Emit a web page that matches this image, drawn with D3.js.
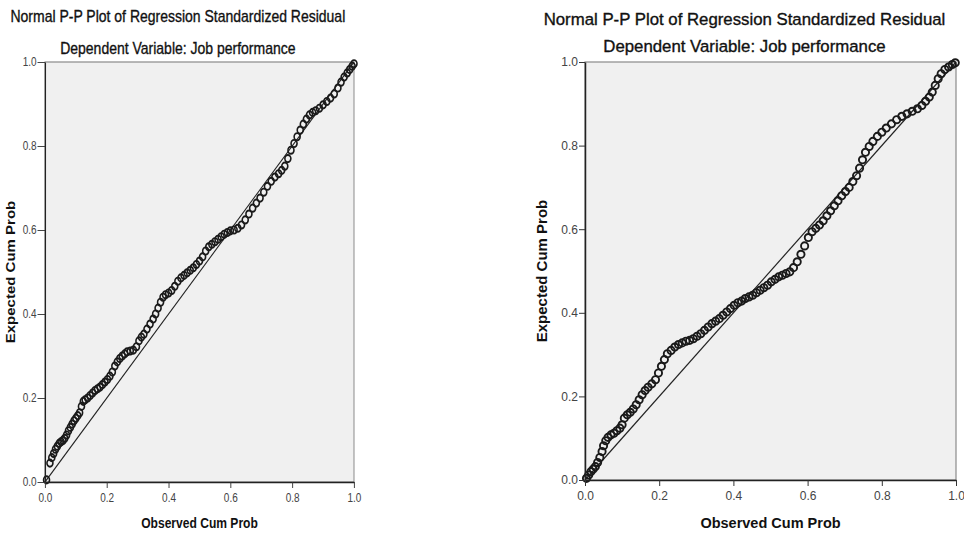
<!DOCTYPE html>
<html>
<head>
<meta charset="utf-8">
<script src="https://cdn.jsdelivr.net/npm/d3@7"></script>
<style>
  body { margin: 0; background: #fff; }
  svg { display: block; font-family: "Liberation Sans", Arial, sans-serif; }
  .tick text { fill: #444; font-size: 12px; }
  .tick line { stroke: #333; }
  .domain { stroke: #222; stroke-width: 1.5; }
</style>
</head>
<body>
<svg width="964" height="535"></svg>
<script>
var titleText = 'Normal P-P Plot of Regression Standardized Residual',
    subtitleText = 'Dependent Variable: Job performance',
    xLabel = 'Observed Cum Prob',
    yLabel = 'Expected Cum Prob';

var tickValues = [0, 0.2, 0.4, 0.6, 0.8, 1.0];

// left chart (observed / expected cumulative probability)
var leftObs = [0.005, 0.016, 0.022, 0.028, 0.034, 0.040, 0.046, 0.052, 0.058, 0.064,
    0.070, 0.076, 0.082, 0.088, 0.094, 0.100, 0.106, 0.112, 0.118, 0.124,
    0.130, 0.138, 0.146, 0.154, 0.162, 0.170, 0.178, 0.186, 0.194, 0.202,
    0.210, 0.218, 0.226, 0.234, 0.242, 0.250, 0.258, 0.266, 0.276, 0.286,
    0.296, 0.304, 0.312, 0.320, 0.330, 0.340, 0.350, 0.358, 0.366, 0.374,
    0.382, 0.390, 0.400, 0.410, 0.420, 0.430, 0.440, 0.450, 0.460, 0.470,
    0.480, 0.490, 0.500, 0.510, 0.520, 0.530, 0.540, 0.550, 0.560, 0.570,
    0.580, 0.590, 0.600, 0.612, 0.624, 0.636, 0.648, 0.660, 0.672, 0.684,
    0.696, 0.708, 0.720, 0.732, 0.744, 0.756, 0.766, 0.776, 0.786, 0.796,
    0.806, 0.816, 0.826, 0.836, 0.846, 0.856, 0.866, 0.876, 0.888, 0.900,
    0.912, 0.924, 0.936, 0.948, 0.958, 0.968, 0.978, 0.986, 0.994, 1.000];
var leftExp = [0.005, 0.045, 0.058, 0.068, 0.078, 0.085, 0.092, 0.096, 0.099, 0.104,
    0.112, 0.122, 0.130, 0.138, 0.146, 0.152, 0.158, 0.165, 0.180, 0.192,
    0.196, 0.200, 0.206, 0.212, 0.218, 0.222, 0.226, 0.232, 0.238, 0.244,
    0.252, 0.262, 0.276, 0.286, 0.294, 0.300, 0.305, 0.310, 0.312, 0.314,
    0.322, 0.336, 0.345, 0.352, 0.364, 0.376, 0.388, 0.400, 0.414, 0.428,
    0.440, 0.446, 0.450, 0.456, 0.466, 0.478, 0.486, 0.492, 0.498, 0.504,
    0.510, 0.518, 0.526, 0.536, 0.550, 0.560, 0.566, 0.572, 0.578, 0.584,
    0.590, 0.594, 0.598, 0.600, 0.604, 0.612, 0.624, 0.638, 0.652, 0.664,
    0.676, 0.690, 0.704, 0.716, 0.726, 0.734, 0.742, 0.752, 0.770, 0.790,
    0.806, 0.822, 0.838, 0.852, 0.864, 0.874, 0.880, 0.884, 0.890, 0.898,
    0.906, 0.914, 0.924, 0.938, 0.952, 0.964, 0.974, 0.982, 0.990, 0.996];

// right chart
var rightObs = [0.004, 0.010, 0.016, 0.022, 0.028, 0.034, 0.040, 0.046, 0.050, 0.056,
    0.062, 0.070, 0.078, 0.086, 0.094, 0.100, 0.106, 0.114, 0.122, 0.130,
    0.138, 0.146, 0.154, 0.162, 0.170, 0.180, 0.190, 0.198, 0.206, 0.214,
    0.222, 0.232, 0.242, 0.252, 0.262, 0.272, 0.282, 0.292, 0.302, 0.312,
    0.322, 0.332, 0.342, 0.352, 0.362, 0.372, 0.382, 0.392, 0.402, 0.412,
    0.422, 0.432, 0.442, 0.452, 0.462, 0.472, 0.482, 0.492, 0.502, 0.512,
    0.522, 0.532, 0.542, 0.552, 0.562, 0.572, 0.582, 0.592, 0.602, 0.612,
    0.622, 0.632, 0.642, 0.652, 0.662, 0.672, 0.682, 0.692, 0.702, 0.712,
    0.722, 0.732, 0.740, 0.748, 0.756, 0.766, 0.776, 0.788, 0.800, 0.812,
    0.826, 0.840, 0.854, 0.868, 0.882, 0.896, 0.908, 0.918, 0.928, 0.936,
    0.944, 0.952, 0.960, 0.970, 0.980, 0.990, 0.998];
var rightExp = [0.004, 0.012, 0.020, 0.026, 0.032, 0.042, 0.054, 0.068, 0.082, 0.094,
    0.102, 0.108, 0.112, 0.118, 0.124, 0.132, 0.148, 0.156, 0.162, 0.170,
    0.180, 0.192, 0.204, 0.214, 0.222, 0.230, 0.240, 0.256, 0.272, 0.288,
    0.302, 0.310, 0.318, 0.324, 0.328, 0.332, 0.334, 0.338, 0.344, 0.350,
    0.358, 0.366, 0.374, 0.380, 0.386, 0.394, 0.402, 0.410, 0.418, 0.424,
    0.428, 0.434, 0.438, 0.442, 0.448, 0.454, 0.460, 0.466, 0.474, 0.480,
    0.486, 0.490, 0.494, 0.498, 0.508, 0.522, 0.540, 0.560, 0.580, 0.594,
    0.602, 0.610, 0.620, 0.632, 0.644, 0.656, 0.668, 0.680, 0.690, 0.700,
    0.714, 0.728, 0.746, 0.766, 0.784, 0.798, 0.810, 0.822, 0.832, 0.842,
    0.852, 0.862, 0.870, 0.876, 0.882, 0.888, 0.896, 0.906, 0.916, 0.928,
    0.944, 0.960, 0.972, 0.982, 0.988, 0.994, 0.998];

var svg = d3.select('svg');

// left picture is a horizontally squeezed copy, so it gets an x scale factor
var panels = [
    { obs: leftObs, exp: leftExp, left: 45, top: 62, sx: 309 / 371, h: 420,
      titleY: -40, subY: -8, tickLen: 9, xLabY: 46, yLabX: -36 },
    { obs: rightObs, exp: rightExp, left: 585, top: 62, sx: 1, h: 418,
      titleY: -37, subY: -10, tickLen: 6, xLabY: 48, yLabX: -38 }
];

var w = 371;

panels.forEach(function (p) {
    var g = svg.append('g')
        .attr('transform', 'translate(' + p.left + ',' + p.top + ') scale(' + p.sx + ',1)');

    var x = d3.scaleLinear().domain([0, 1]).range([0, w]),
        y = d3.scaleLinear().domain([0, 1]).range([p.h, 0]);

    g.append('rect')
        .attr('width', w)
        .attr('height', p.h)
        .attr('fill', '#f0f0f0')
        .attr('stroke', '#8a8a8a')
        .attr('stroke-width', 1.2);

    g.append('line')
        .attr('x1', x(0)).attr('y1', y(0))
        .attr('x2', x(1)).attr('y2', y(1))
        .attr('stroke', '#222')
        .attr('stroke-width', 1.2);

    g.append('g')
        .selectAll('circle')
        .data(p.obs)
        .enter()
        .append('circle')
        .attr('cx', function (d) { return x(d); })
        .attr('cy', function (d, i) { return y(p.exp[i]); })
        .attr('r', 3.6)
        .attr('fill', 'none')
        .attr('stroke', '#1a1a1a')
        .attr('stroke-width', 1.9);

    g.append('g')
        .call(d3.axisLeft(y).tickValues(tickValues).tickFormat(d3.format('.1f'))
            .tickSize(p.tickLen).tickSizeOuter(0).tickPadding(1));

    g.append('g')
        .attr('transform', 'translate(0,' + p.h + ')')
        .call(d3.axisBottom(x).tickValues(tickValues).tickFormat(d3.format('.1f'))
            .tickSize(6).tickSizeOuter(0).tickPadding(5));

    g.append('text')
        .attr('x', w / 2 - 26)
        .attr('y', p.titleY)
        .attr('text-anchor', 'middle')
        .style('font-size', '16.8px')
        .style('fill', '#111')
        .style('stroke', '#111')
        .style('stroke-width', 0.35)
        .text(titleText);

    g.append('text')
        .attr('x', w / 2 - 26)
        .attr('y', p.subY)
        .attr('text-anchor', 'middle')
        .style('font-size', '16.8px')
        .style('fill', '#111')
        .style('stroke', '#111')
        .style('stroke-width', 0.35)
        .text(subtitleText);

    g.append('text')
        .attr('x', w / 2)
        .attr('y', p.h + p.xLabY)
        .attr('text-anchor', 'middle')
        .style('font-size', '14.5px')
        .style('font-weight', 'bold')
        .style('fill', '#111')
        .text(xLabel);

    g.append('text')
        .attr('transform', 'translate(' + p.yLabX + ',' + (p.h / 2) + ') rotate(-90)')
        .attr('text-anchor', 'middle')
        .style('font-size', '15px')
        .style('font-weight', 'bold')
        .style('fill', '#111')
        .text(yLabel);
});
</script>
</body>
</html>
